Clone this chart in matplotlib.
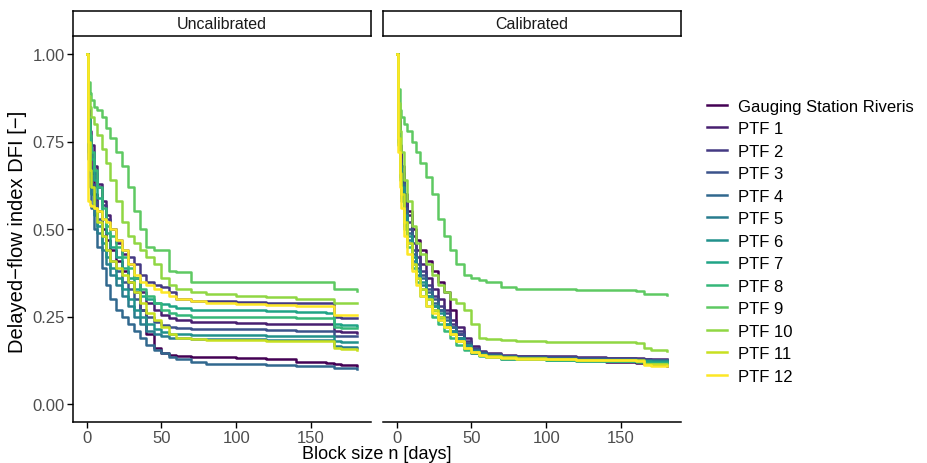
import numpy as np
import matplotlib
matplotlib.use("Agg")
import matplotlib.pyplot as plt
from matplotlib.lines import Line2D

plt.rcParams['font.family'] = ['Liberation Sans', 'DejaVu Sans']

# block sizes (days) at which the delayed-flow index was evaluated
block_size = [0, 1, 2, 3, 5, 7, 10, 13, 16, 20, 24, 28, 32, 36, 40, 45, 50,
              55, 60, 70, 80, 100, 120, 140, 160, 165, 170, 181]

series_names = ["Gauging Station Riveris", "PTF 1", "PTF 2", "PTF 3", "PTF 4",
                "PTF 5", "PTF 6", "PTF 7", "PTF 8", "PTF 9", "PTF 10",
                "PTF 11", "PTF 12"]
panel_titles = ["Uncalibrated", "Calibrated"]

# observed DFI (same in both panels)
gauging = [1.0, .80, .72, .66, .60, .55, .50, .47, .44, .41, .38, .35, .32, .27,
           .20, .16, .145, .14, .138, .135, .134, .132, .128, .12, .117, .115, .112, .108]

# uncalibrated model runs
unc_ptf1 = [1.0, .84, .78, .74, .68, .63, .58, .54, .50, .46, .43, .40, .36, .32,
            .29, .27, .255, .245, .24, .235, .235, .232, .23, .23, .23, .21, .205, .202]
unc_ptf2 = [1.0, .82, .76, .72, .66, .62, .57, .53, .50, .47, .44, .42, .40, .37,
            .35, .34, .335, .32, .30, .295, .293, .292, .29, .29, .29, .25, .245, .245]
unc_ptf3 = [1.0, .74, .68, .63, .58, .53, .48, .44, .41, .38, .35, .33, .30, .27,
            .25, .235, .225, .22, .218, .215, .215, .213, .212, .21, .21, .195, .194, .193]
unc_ptf4 = [1.0, .70, .62, .56, .50, .45, .39, .34, .30, .27, .25, .23, .21, .19,
            .17, .155, .145, .135, .128, .12, .115, .113, .112, .11, .108, .104, .102, .10]
unc_ptf5 = [1.0, .72, .65, .60, .54, .49, .44, .40, .37, .34, .31, .28, .25, .23,
            .21, .20, .195, .19, .188, .186, .185, .185, .184, .183, .183, .165, .162, .160]
unc_ptf6 = [1.0, .74, .67, .62, .56, .51, .46, .42, .39, .36, .33, .30, .27, .25,
            .23, .215, .205, .20, .20, .198, .197, .196, .195, .195, .195, .18, .177, .176]
unc_ptf7 = [1.0, .80, .74, .70, .64, .59, .53, .49, .45, .42, .39, .36, .33, .31,
            .30, .29, .285, .28, .275, .27, .27, .268, .265, .262, .26, .23, .225, .224]
unc_ptf8 = [1.0, .82, .77, .72, .67, .62, .56, .51, .48, .45, .42, .39, .36, .33,
            .31, .29, .27, .26, .255, .25, .25, .25, .248, .245, .245, .22, .218, .217]
unc_ptf9 = [1.0, .92, .89, .87, .85, .84, .82, .79, .76, .72, .68, .62, .55, .50,
            .45, .44, .44, .38, .376, .35, .35, .35, .35, .35, .35, .33, .33, .324]
unc_ptf10 = [1.0, .88, .85, .82, .80, .77, .73, .69, .64, .58, .52, .48, .46, .44,
             .42, .40, .36, .34, .33, .32, .315, .31, .305, .30, .30, .29, .29, .289]
unc_ptf11 = [1.0, .75, .67, .62, .56, .52, .48, .44, .41, .39, .37, .35, .32, .29,
             .26, .24, .22, .20, .19, .185, .183, .182, .181, .18, .18, .16, .157, .155]
unc_ptf12 = [1.0, .58, .57, .565, .56, .55, .53, .52, .50, .47, .44, .40, .37, .35,
             .34, .33, .32, .31, .30, .295, .29, .285, .282, .28, .28, .255, .255, .254]

# calibrated model runs
cal_ptf1 = [1.0, .83, .74, .68, .60, .54, .48, .44, .40, .36, .33, .30, .27, .24,
            .22, .19, .165, .152, .145, .14, .138, .136, .134, .132, .131, .13, .129, .128]
cal_ptf2 = [1.0, .81, .72, .66, .58, .52, .46, .42, .38, .34, .31, .28, .26, .23,
            .21, .18, .16, .15, .143, .138, .136, .134, .132, .131, .13, .128, .127, .127]
cal_ptf3 = [1.0, .80, .70, .64, .56, .50, .44, .40, .37, .33, .30, .27, .25, .22,
            .20, .175, .158, .148, .142, .137, .135, .133, .131, .13, .129, .127, .127, .126]
cal_ptf4 = [1.0, .79, .69, .63, .55, .49, .43, .39, .36, .32, .29, .27, .24, .22,
            .19, .17, .155, .145, .14, .136, .134, .132, .13, .128, .127, .126, .126, .125]
cal_ptf5 = [1.0, .77, .67, .61, .53, .47, .41, .37, .34, .31, .28, .25, .23, .21,
            .19, .165, .15, .14, .135, .13, .128, .126, .124, .123, .122, .12, .12, .119]
cal_ptf6 = [1.0, .78, .68, .62, .54, .48, .42, .38, .35, .31, .28, .26, .23, .21,
            .19, .17, .152, .142, .136, .132, .13, .128, .126, .125, .124, .124, .123, .123]
cal_ptf7 = [1.0, .75, .65, .59, .51, .46, .40, .36, .33, .30, .27, .24, .22, .20,
            .18, .16, .148, .14, .135, .131, .129, .127, .125, .124, .123, .122, .121, .12]
cal_ptf8 = [1.0, .74, .64, .58, .50, .45, .39, .35, .31, .28, .25, .23, .21, .19,
            .17, .155, .145, .138, .133, .13, .128, .126, .124, .122, .12, .118, .117, .116]
cal_ptf9 = [1.0, .90, .84, .82, .80, .78, .75, .72, .69, .65, .60, .53, .48, .44,
            .40, .37, .36, .355, .35, .335, .33, .328, .326, .325, .322, .315, .313, .311]
cal_ptf10 = [1.0, .86, .78, .72, .64, .58, .51, .46, .43, .40, .37, .34, .32, .30,
             .29, .27, .23, .19, .185, .183, .18, .178, .177, .176, .175, .16, .155, .152]
cal_ptf11 = [1.0, .76, .66, .60, .52, .46, .40, .36, .33, .30, .27, .25, .22, .20,
             .18, .16, .148, .14, .136, .133, .131, .129, .127, .126, .125, .115, .113, .112]
cal_ptf12 = [1.0, .72, .62, .56, .48, .43, .38, .34, .31, .28, .26, .24, .22, .20,
             .18, .16, .15, .14, .135, .132, .13, .128, .126, .125, .123, .112, .11, .108]

uncalibrated = [gauging, unc_ptf1, unc_ptf2, unc_ptf3, unc_ptf4, unc_ptf5, unc_ptf6,
                unc_ptf7, unc_ptf8, unc_ptf9, unc_ptf10, unc_ptf11, unc_ptf12]
calibrated = [gauging, cal_ptf1, cal_ptf2, cal_ptf3, cal_ptf4, cal_ptf5, cal_ptf6,
              cal_ptf7, cal_ptf8, cal_ptf9, cal_ptf10, cal_ptf11, cal_ptf12]

colors = plt.cm.viridis(np.linspace(0, 1, len(series_names)))
tick_grey = "#4d4d4d"

fig = plt.figure(figsize=(9.27, 4.64), dpi=100)
W, H = 927, 464

def px_axes(x0, y0, x1, y1):
    # axes from pixel box (top-left origin)
    return fig.add_axes([x0 / W, 1 - y1 / H, (x1 - x0) / W, (y1 - y0) / H])

panels = [(73, 371), (383, 681)]
for i, (data, title) in enumerate(zip([uncalibrated, calibrated], panel_titles)):
    x0, x1 = panels[i]
    ax = px_axes(x0, 37.5, x1, 422.5)
    for vals, col in zip(data, colors):
        ax.plot(block_size, vals, color=col, lw=1.8, drawstyle="steps-post")
    ax.set_xlim(-9.05, 190.05)
    ax.set_ylim(-0.05, 1.05)
    ax.set_xticks([0, 50, 100, 150])
    ax.set_yticks([0, 0.25, 0.5, 0.75, 1.0])
    ax.spines[["top", "right"]].set_visible(False)
    ax.spines["bottom"].set_linewidth(1.1)
    ax.spines["left"].set_linewidth(1.1)
    ax.tick_params(colors="black", labelcolor=tick_grey, labelsize=12,
                   length=4, width=1.0, pad=2)
    if i == 0:
        ax.set_yticklabels(["0.00", "0.25", "0.50", "0.75", "1.00"])
    else:
        ax.spines["left"].set_visible(False)
        ax.tick_params(axis="y", left=False, labelleft=False)

    # facet strip
    sax = px_axes(x0, 12, x1, 37)
    sax.set_xticks([])
    sax.set_yticks([])
    for s in sax.spines.values():
        s.set_linewidth(1.1)
    sax.text(0.5, 0.5, title, ha="center", va="center", fontsize=11.5,
             color="#1a1a1a", family=["Liberation Sans Narrow", "Liberation Sans"],
             transform=sax.transAxes)

fig.text(377 / W, 1 - 455 / H, "Block size n [days]", ha="center", va="center",
         fontsize=13)
fig.text(18 / W, 1 - 232 / H, "Delayed\u2212flow index DFI [\u2212]", ha="center",
         va="center", rotation=90, fontsize=14.5)

handles = [Line2D([], [], color=c, lw=1.8) for c in colors]
fig.legend(handles, series_names, loc="upper left",
           bbox_to_anchor=(700 / W, 1 - 93 / H), frameon=False, fontsize=12,
           handlelength=1.2, handletextpad=0.7, labelspacing=0.45,
           borderaxespad=0)

fig.savefig("out.png", dpi=100)
